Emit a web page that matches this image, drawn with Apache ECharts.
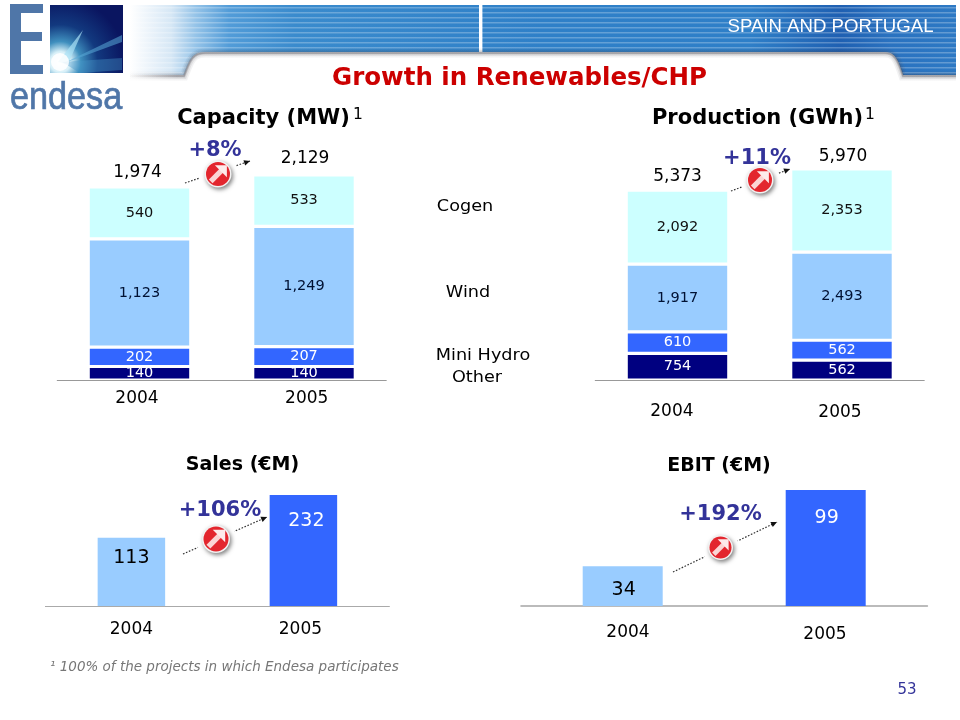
<!DOCTYPE html>
<html><head><meta charset="utf-8">
<style>html,body{margin:0;padding:0;background:#fff}#c{width:960px;height:720px}</style>
<script src="https://cdn.jsdelivr.net/npm/echarts@6/dist/echarts.min.js"></script>
</head><body><div id="c"></div>
<script>
var years = ['2004', '2005'];

var capacityOther = [140, 140];
var capacityMiniHydro = [202, 207];
var capacityWind = [1123, 1249];
var capacityCogen = [540, 533];
var capacityTotal = [1974, 2129];

var productionOther = [754, 562];
var productionMiniHydro = [610, 562];
var productionWind = [1917, 2493];
var productionCogen = [2092, 2353];
var productionTotal = [5373, 5970];

var salesValues = [113, 232];
var ebitValues = [34, 99];

var FONT = '"DejaVu Sans", Verdana, sans-serif';
var C = { other: '#000080', hydro: '#3366FF', wind: '#99CCFF', cogen: '#CCFFFF', pct: '#333399' };

var chart = echarts.init(document.getElementById('c'), null, { renderer: 'canvas' });

var grids = [
  { left: 57.25, width: 329, top: 175, height: 205 },
  { left: 595.25, width: 329, top: 169, height: 211 },
  { left: 45.4, width: 344, top: 495, height: 111 },
  { left: 521.2, width: 406, top: 490, height: 116 }
];

function nudged(dx, dy) {
  return { fontSize: 17, fontFamily: FONT, color: '#000',
    padding: [dy, dx < 0 ? -2 * dx : 0, 0, dx > 0 ? 2 * dx : 0] };
}
function xAxis(i, margin, n0, n1, lineW, lineC) {
  return { type: 'category', gridIndex: i, data: years, boundaryGap: true,
    axisTick: { show: false },
    axisLine: { show: true, lineStyle: { color: lineC || '#999', width: lineW || 1 } },
    axisLabel: { margin: margin, interval: 0,
      formatter: function (v) { return (v === years[0] ? '{a|' : '{b|') + v + '}'; },
      rich: { a: nudged(n0[0], n0[1]), b: nudged(n1[0], n1[1]) } } };
}
function yAxis(i, extra) {
  var a = { type: 'value', gridIndex: i, min: 0, show: false, splitLine: { show: false } };
  for (var k in extra) a[k] = extra[k];
  return a;
}
function stacked(name, vals, color, textColor, axis, width) {
  return { type: 'bar', name: name, stack: 's' + axis, xAxisIndex: axis, yAxisIndex: axis, data: vals,
    barWidth: width, itemStyle: { color: color, borderColor: '#fff', borderWidth: 1.6 },
    label: { show: true, position: 'inside', fontFamily: FONT, fontSize: 14.5, color: textColor,
      formatter: function (p) { return p.value.toLocaleString('en-US'); } } };
}
function totals(vals, axis, placement) {
  return { type: 'scatter', xAxisIndex: axis, yAxisIndex: axis, symbolSize: 1, silent: true,
    itemStyle: { color: 'transparent', opacity: 1 },
    data: vals.map(function (v, i) {
      return { value: v, label: { distance: placement[i][0], offset: [placement[i][1], 0] } };
    }),
    label: { show: true, position: 'top', fontFamily: FONT, fontSize: 17, color: '#000',
      formatter: function (p) { return p.value.toLocaleString('en-US'); } } };
}
function simple(vals, axis, width, cfg) {
  return { type: 'bar', xAxisIndex: axis, yAxisIndex: axis, barWidth: width, clip: true,
    data: vals.map(function (v, i) {
      return { value: v, itemStyle: { color: i ? C.hydro : C.wind },
        label: { distance: cfg[i][0], offset: [cfg[i][1], 0], color: i ? '#fff' : '#000' } };
    }),
    label: { show: true, position: 'insideTop', fontFamily: FONT, fontSize: 19 } };
}

/* ---------- decoration ---------- */
var g = [];
function T(text, x, y, size, color, opt) {
  opt = opt || {};
  var style = { text: text, fontSize: size, fontFamily: opt.family || FONT, fontWeight: opt.weight || 'normal',
    fontStyle: opt.italic ? 'italic' : 'normal', fill: color,
    align: opt.align || 'center', verticalAlign: 'middle' };
  if (opt.stroke) { style.stroke = color; style.lineWidth = opt.stroke; }
  g.push({ type: 'text', x: x, y: y, z: 20, scaleX: opt.scaleX || 1, style: style });
}
function rect(x, y, w, h, fill, z) {
  g.push({ type: 'rect', z: z || 1, shape: { x: x, y: y, width: w, height: h }, style: { fill: fill } });
}
function cubic(a, b, c, d) {
  var out = [];
  for (var i = 0; i <= 12; i++) {
    var t = i / 12, m = 1 - t;
    out.push([m * m * m * a[0] + 3 * m * m * t * b[0] + 3 * m * t * t * c[0] + t * t * t * d[0],
              m * m * m * a[1] + 3 * m * m * t * b[1] + 3 * m * t * t * c[1] + t * t * t * d[1]]);
  }
  return out;
}
function band() {
  rect(130, 5, 826, 70, { type: 'linear', x: 0, y: 0, x2: 1, y2: 0, colorStops: [
    { offset: 0, color: '#ffffff' }, { offset: 0.05, color: '#d6e7f5' }, { offset: 0.08, color: '#94c3e8' },
    { offset: 0.12, color: '#529cd8' }, { offset: 0.2, color: '#3a8bcd' }, { offset: 0.5, color: '#2f80c8' },
    { offset: 0.75, color: '#2e7fc8' }, { offset: 0.86, color: '#1f60b2' }, { offset: 0.92, color: '#2a72c0' },
    { offset: 1, color: '#2d79c4' } ] }, 1);
  for (var y = 7; y < 75; y += 5) rect(130, y, 826, 1.5, 'rgba(255,255,255,0.26)', 2);
  rect(479, 3, 3.4, 52, '#fff', 3);
  var leftCurve = cubic([184, 75], [190, 60], [192, 52], [205, 52]);
  var rightCurve = cubic([885, 52], [895, 52], [898, 60], [903, 75]);
  g.push({ type: 'polygon', z: 3, shape: { points: leftCurve.concat(rightCurve).concat([[903, 82], [184, 82]]) }, style: { fill: '#fff' } });
  var edge = [[130, 76]].concat(leftCurve.map(function (p) { return [p[0], p[1] + 1]; }))
    .concat(rightCurve.map(function (p) { return [p[0], p[1] + 1]; })).concat([[956, 76]]);
  var fade = function (a) {
    return { type: 'linear', x: 0, y: 0, x2: 1, y2: 0, colorStops: [
      { offset: 0, color: 'rgba(70,70,80,0)' }, { offset: 0.06, color: 'rgba(70,70,80,' + a + ')' },
      { offset: 1, color: 'rgba(70,70,80,' + a + ')' } ] };
  };
  [[9, 0.07], [6, 0.1], [3, 0.2], [1.5, 0.3]].forEach(function (s) {
    g.push({ type: 'polyline', z: 4, shape: { points: edge }, style: { fill: null, stroke: fade(s[1]), lineWidth: s[0] } });
  });
}
function logo() {
  var blue = '#4F76A8';
  rect(10, 4, 11, 70, blue, 5); rect(10, 4, 33, 9, blue, 5);
  rect(10, 32, 32, 9, blue, 5); rect(10, 65, 33, 9, blue, 5);
  rect(50, 5, 73, 68, { type: 'radial', x: 0.14, y: 0.84, r: 0.95, colorStops: [
    { offset: 0, color: '#ffffff' }, { offset: 0.16, color: '#d8f0f8' }, { offset: 0.32, color: '#3f8fbe' },
    { offset: 0.58, color: '#12397f' }, { offset: 1, color: '#0a1560' } ] }, 5);
  [[[58, 62], [83, 30], [68, 64]], [[62, 64], [122, 35], [122, 42]], [[62, 62], [122, 58], [122, 70], [80, 73]]].forEach(function (p, i) {
    g.push({ type: 'polygon', z: 6, shape: { points: p },
      style: { fill: ['rgba(170,225,245,0.7)', 'rgba(90,170,215,0.55)', 'rgba(70,150,200,0.4)'][i] } });
  });
  g.push({ type: 'circle', z: 6, shape: { cx: 60, cy: 62, r: 9 }, style: { fill: 'rgba(255,255,255,0.85)' } });
  T('endesa', 10, 99, 38, blue, { family: '"Liberation Sans", Arial, sans-serif', align: 'left', scaleX: 0.9, stroke: 0.7 });
}
function growth(x0, y0, x1, y1, cx, cy, r) {
  var ang = Math.atan2(y1 - y0, x1 - x0);
  g.push({ type: 'line', z: 7, shape: { x1: x0, y1: y0, x2: x1, y2: y1 },
    style: { stroke: '#333', lineWidth: 1.2, lineDash: [1.6, 1.6] } });
  var h = 6, s = 2.8;
  g.push({ type: 'polygon', z: 7, shape: { points: [
    [x1, y1],
    [x1 - h * Math.cos(ang) + s * Math.sin(ang), y1 - h * Math.sin(ang) - s * Math.cos(ang)],
    [x1 - h * Math.cos(ang) - s * Math.sin(ang), y1 - h * Math.sin(ang) + s * Math.cos(ang)] ] },
    style: { fill: '#111' } });
  g.push({ type: 'circle', z: 8, shape: { cx: cx, cy: cy, r: r + 7 }, style: { fill: '#fff' } });
  g.push({ type: 'circle', z: 9, shape: { cx: cx, cy: cy, r: r + 1 },
    style: { fill: '#f2f2f2', shadowColor: 'rgba(0,0,0,0.5)', shadowBlur: 4, shadowOffsetX: 1.5, shadowOffsetY: 2 } });
  g.push({ type: 'circle', z: 10, shape: { cx: cx, cy: cy, r: r - 0.5 }, style: { fill: '#E3262E' } });
  var u = r / 12;
  g.push({ type: 'line', z: 11, shape: { x1: cx - 7 * u, y1: cy + 7 * u, x2: cx + 4 * u, y2: cy - 4 * u },
    style: { stroke: '#FBD5D5', lineWidth: 5 * u } });
  g.push({ type: 'polygon', z: 11, shape: { points: [[cx - 3 * u, cy - 8.5 * u], [cx + 8.5 * u, cy - 8.5 * u], [cx + 8.5 * u, cy + 3 * u]] },
    style: { fill: '#FDEBEB' } });
}

band();
logo();
T('SPAIN AND PORTUGAL', 830.5, 27, 18.6, '#fff', { family: '"Liberation Sans", Arial, sans-serif' });
T('Growth in Renewables/CHP', 519.5, 79, 24.5, '#CC0000', { weight: 'bold' });
T('Capacity (MW)', 263.5, 119, 21, '#000', { weight: 'bold' });
T('1', 358, 115, 15.5, '#000');
T('Production (GWh)', 757.5, 119, 21, '#000', { weight: 'bold' });
T('1', 870, 115, 15.5, '#000');
T('Sales (€M)', 242.5, 465, 19, '#000', { weight: 'bold' });
T('EBIT (€M)', 719, 466, 19, '#000', { weight: 'bold' });
var legendFit = { scaleX: 1.07 };
T('Cogen', 465, 207, 16.5, '#000', legendFit);
T('Wind', 468, 293, 16.5, '#000', legendFit);
T('Mini Hydro', 483, 356, 16.5, '#000', legendFit);
T('Other', 477, 378, 16.5, '#000', legendFit);
T('+8%', 215, 151, 21, C.pct, { weight: 'bold' });
T('+11%', 757, 159, 21, C.pct, { weight: 'bold' });
T('+106%', 220, 511, 21, C.pct, { weight: 'bold' });
T('+192%', 720.5, 515, 21, C.pct, { weight: 'bold' });
T('¹ 100% of the projects in which Endesa participates', 50, 667, 13.5, '#777', { italic: true, align: 'left' });
T('53', 907, 690, 15, C.pct);
growth(185, 183, 250, 161, 218, 174, 12.5);
growth(731, 191, 790, 169, 760, 180, 12.5);
growth(183, 554, 267, 517, 216, 539, 13);
growth(673, 572, 777, 522, 720.5, 547.5, 11.5);

chart.setOption({
  animation: false,
  backgroundColor: '#fff',
  grid: grids,
  xAxis: [
    xAxis(0, 10, [-2.5, 0], [2.7, 0]),
    xAxis(1, 23, [-5.6, 0], [-2, 1]),
    xAxis(2, 15, [0, 0], [-3, 0], 1, '#aaa'),
    xAxis(3, 18, [5.3, 0], [-0.7, 2], 2, '#bbb')
  ],
  yAxis: [
    yAxis(0, { max: 2129 }),
    yAxis(1, { max: 5970 }),
    yAxis(2, { type: 'log', logBase: 10, min: 36, max: 232 }),
    yAxis(3, { max: 99 })
  ],
  series: [
    stacked('Other', capacityOther, C.other, '#fff', 0, 102.6),
    stacked('Mini Hydro', capacityMiniHydro, C.hydro, '#fff', 0, 102.6),
    stacked('Wind', capacityWind, C.wind, '#001133', 0, 102.6),
    stacked('Cogen', capacityCogen, C.cogen, '#111', 0, 102.6),
    totals(capacityTotal, 0, [[8, -2], [7, 1]]),
    stacked('Other', productionOther, C.other, '#fff', 1, 102.6),
    stacked('Mini Hydro', productionMiniHydro, C.hydro, '#fff', 1, 102.6),
    stacked('Wind', productionWind, C.wind, '#001133', 1, 102.6),
    stacked('Cogen', productionCogen, C.cogen, '#111', 1, 102.6),
    totals(productionTotal, 1, [[5, 0], [3, 1]]),
    simple(salesValues, 2, 67.5, [[10.5, 0], [16.5, 3]]),
    simple(ebitValues, 3, 80, [[14.5, 1], [18.5, 1]])
  ],
  graphic: g
});
</script></body></html>
